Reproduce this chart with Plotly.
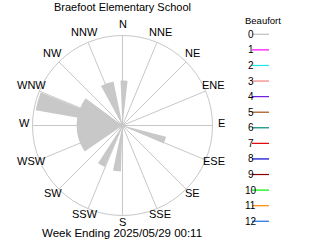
import math
import plotly.graph_objects as go

# ---- data ----
compass_labels = ["N", "NNE", "NE", "ENE", "E", "ESE", "SE", "SSE",
                  "S", "SSW", "SW", "WSW", "W", "WNW", "NW", "NNW"]
compass_deg = [i * 22.5 for i in range(16)]

bar_dir = [2, 340, 271, 286, 208, 187, 109]        # direction (deg)
bar_value = [50, 50, 51, 98, 50, 51, 50]           # % of outer ring
bar_width = [9, 17, 71, 12, 10, 10, 9]             # sector width (deg)

beaufort_levels = ["0", "1", "2", "3", "4", "5", "6", "7", "8", "9", "10", "11", "12"]
beaufort_colors = ["#c0c0c0", "#ff00ff", "#20e8e8", "#f08080", "#7020e0", "#a05018",
                   "#008878", "#e00000", "#0000d0", "#880000", "#00f000", "#ff8800", "#1870e0"]

title_text = "Braefoot Elementary School"
footer_text = "Week Ending 2025/05/29 00:11"

W, H = 320, 240
GRAY = "#c8c8c8"

fig = go.Figure()
fig.add_trace(go.Barpolar(
    theta=bar_dir, r=bar_value, width=bar_width,
    marker=dict(color=GRAY, line=dict(width=0)),
    showlegend=False, hoverinfo="skip",
))

cx, cy, R = 122.5, 125.5, 90
fig.update_layout(
    width=W, height=H, margin=dict(l=0, r=0, t=0, b=0),
    paper_bgcolor="white", plot_bgcolor="white", showlegend=False,
    polar=dict(
        domain=dict(x=[(cx - R) / W, (cx + R) / W], y=[1 - (cy + R) / H, 1 - (cy - R) / H]),
        bgcolor="white",
        radialaxis=dict(visible=False, range=[0, 100]),
        angularaxis=dict(
            rotation=90, direction="clockwise",
            tickmode="array", tickvals=compass_deg, ticktext=compass_labels,
            ticks="", showticklabels=False,
            showgrid=True, gridcolor=GRAY, gridwidth=1,
            showline=True, linecolor=GRAY, linewidth=1,
        ),
    ),
)

ann = []
# compass labels placed just outside the ring
LR = 98.5
for lab, deg in zip(compass_labels, compass_deg):
    a = math.radians(deg)
    xp = cx + LR * math.sin(a)
    yp = cy - LR * math.cos(a) - 2.5
    ann.append(dict(x=xp / W, y=1 - yp / H, xref="paper", yref="paper", text=lab,
                    showarrow=False, xanchor="center", yanchor="middle",
                    font=dict(family="Liberation Sans Narrow, Liberation Sans, sans-serif",
                              size=11, color="black")))

ann.append(dict(x=122.2 / W, y=1 - 7 / H, xref="paper", yref="paper", text=title_text,
                showarrow=False, xanchor="center", yanchor="middle",
                font=dict(family="Liberation Sans, sans-serif", size=11, color="black")))
ann.append(dict(x=121.5 / W, y=1 - 232.5 / H, xref="paper", yref="paper", text=footer_text,
                showarrow=False, xanchor="center", yanchor="middle",
                font=dict(family="Liberation Sans, sans-serif", size=11.5, color="black")))
ann.append(dict(x=263 / W, y=1 - 20 / H, xref="paper", yref="paper", text="Beaufort",
                showarrow=False, xanchor="center", yanchor="middle",
                font=dict(family="Liberation Sans, sans-serif", size=9.5, color="black")))

shapes = []
for i, (lab, col) in enumerate(zip(beaufort_levels, beaufort_colors)):
    ypx = 34.3 + i * 15.58
    yp = 1 - ypx / H
    shapes.append(dict(type="line", xref="paper", yref="paper",
                       x0=252 / W, x1=269 / W, y0=yp, y1=yp,
                       line=dict(color=col, width=1.2)))
    ann.append(dict(x=250.5 / W, y=yp, xref="paper", yref="paper", text=lab,
                    showarrow=False, xanchor="center", yanchor="middle",
                    font=dict(family="Liberation Sans, sans-serif", size=10, color="black")))

fig.update_layout(annotations=ann, shapes=shapes)
fig.write_html("out.html")
